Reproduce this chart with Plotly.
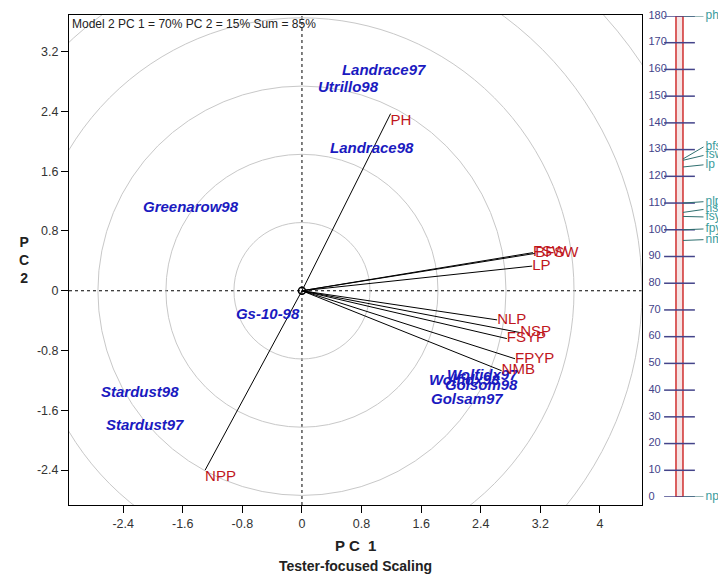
import plotly.graph_objects as go

# ---- data ----
TESTERS = ["PH", "FSW", "BFSW", "LP", "NLP", "NSP", "FSYP", "FPYP", "NMB", "NPP"]
T_PC1 = [1.19, 3.10, 3.13, 3.09, 2.62, 2.93, 2.75, 2.86, 2.68, -1.30]
T_PC2 = [2.37, 0.51, 0.50, 0.33, -0.39, -0.56, -0.64, -0.91, -1.07, -2.40]
T_TEXTPOS = ["bottom right", "middle right", "middle right", "middle right", "middle right",
             "middle right", "middle right", "middle right", "middle right", "bottom right"]

GENOTYPES = ["Landrace97", "Utrillo98", "Landrace98", "Greenarow98", "Gs-10-98",
             "Stardust98", "Stardust97", "Wolfidx98", "Wolfidx97", "Golsom98", "Golsam97"]
G_PC1 = [0.537, 0.215, 0.376, -2.134, -0.886, -2.698, -2.631, 1.705, 1.946, 1.919, 1.732]
G_PC2 = [2.941, 2.714, 1.898, 1.110, -0.334, -1.377, -1.818, -1.217, -1.150, -1.283, -1.471]

CIRCLE_RADII = [0.913, 1.826, 2.739, 3.652, 4.565, 5.478]

X_TICKS = [-2.4, -1.6, -0.8, 0, 0.8, 1.6, 2.4, 3.2, 4]
X_TICKTEXT = ["-2.4", "-1.6", "-0.8", "0", "0.8", "1.6", "2.4", "3.2", "4"]
Y_TICKS = [-2.4, -1.6, -0.8, 0, 0.8, 1.6, 2.4, 3.2]
Y_TICKTEXT = ["-2.4", "-1.6", "-0.8", "0", "0.8", "1.6", "2.4", "3.2"]

# right-hand scale of tester means
SCALE_VARS = ["ph", "bfsw", "fsw", "lp", "nlp", "nsp", "fsyp", "fpyp", "nmb", "npp"]
SCALE_VALS = [180, 126.5, 126, 123.5, 110, 106.5, 105, 100, 96, 0]
SCALE_LABEL_Y = [180, 131, 127.8, 124.3, 110.5, 107.6, 104.8, 100.3, 96.3, 0]
SCALE_TICKS = list(range(0, 181, 10))

FONT = "Arial, 'Liberation Sans', sans-serif"
RED = "#C0161C"
BLUE = "#1A1AC0"
TEAL = "#3A9C9C"
NAVY = "#44448A"

fig = go.Figure()

# concentric circles about the origin
for r in CIRCLE_RADII:
    fig.add_shape(type="circle", xref="x", yref="y", x0=-r, y0=-r, x1=r, y1=r,
                  line=dict(color="#C8C8C8", width=1), layer="below")

# dashed axes through origin
fig.add_hline(y=0, line=dict(color="black", width=1, dash="3px,3px"), layer="below")
fig.add_vline(x=0, line=dict(color="black", width=1, dash="3px,3px"), layer="below")

# tester vectors
vx, vy = [], []
for a, b in zip(T_PC1, T_PC2):
    vx += [0, a, None]
    vy += [0, b, None]
fig.add_trace(go.Scatter(x=vx, y=vy, mode="lines", line=dict(color="black", width=1),
                         hoverinfo="skip", showlegend=False))
fig.add_trace(go.Scatter(x=[0], y=[0], mode="markers",
                         marker=dict(symbol="circle-open", size=7, color="black",
                                     line=dict(width=1.5)),
                         hoverinfo="skip", showlegend=False))

fig.add_trace(go.Scatter(x=G_PC1, y=G_PC2, mode="text", text=GENOTYPES,
                         textposition="middle right",
                         textfont=dict(family=FONT, size=15, color=BLUE,
                                       weight="bold", style="italic"),
                         showlegend=False))
fig.add_trace(go.Scatter(x=T_PC1, y=T_PC2, mode="text", text=TESTERS,
                         textposition=T_TEXTPOS,
                         textfont=dict(family=FONT, size=15, color=RED),
                         showlegend=False))

# ---- right-hand scale ----
BAR_HALF = 3.5
LABEL_X = 26
TICKLABEL_X = -31
fig.add_shape(type="rect", xref="x2", yref="y2", x0=-BAR_HALF, x1=BAR_HALF,
              y0=min(SCALE_TICKS), y1=max(SCALE_TICKS),
              line=dict(color="#D03030", width=1.5), fillcolor="#F6E4E4", layer="below")
fig.add_trace(go.Scatter(x=[0] * len(SCALE_TICKS), y=SCALE_TICKS, xaxis="x2", yaxis="y2",
                         mode="markers",
                         marker=dict(symbol="line-ew", size=22,
                                     line=dict(color=NAVY, width=1.5)),
                         hoverinfo="skip", showlegend=False))
fig.add_trace(go.Scatter(x=[TICKLABEL_X] * len(SCALE_TICKS), y=SCALE_TICKS,
                         xaxis="x2", yaxis="y2", mode="text",
                         text=[str(t) for t in SCALE_TICKS], textposition="middle right",
                         textfont=dict(family=FONT, size=11, color=NAVY),
                         hoverinfo="skip", showlegend=False, cliponaxis=False))
cx, cy = [], []
for v, ly in zip(SCALE_VALS, SCALE_LABEL_Y):
    cx += [BAR_HALF, LABEL_X - 2, None]
    cy += [v, ly, None]
fig.add_trace(go.Scatter(x=cx, y=cy, xaxis="x2", yaxis="y2", mode="lines",
                         line=dict(color="#2F6F6F", width=1),
                         hoverinfo="skip", showlegend=False))
fig.add_trace(go.Scatter(x=[LABEL_X] * len(SCALE_VARS), y=SCALE_LABEL_Y,
                         xaxis="x2", yaxis="y2", mode="text", text=SCALE_VARS,
                         textposition="middle right",
                         textfont=dict(family=FONT, size=12, color=TEAL),
                         hoverinfo="skip", showlegend=False, cliponaxis=False))

axis_common = dict(showgrid=False, zeroline=False, showline=True, mirror=True,
                   linecolor="black", linewidth=1, ticks="outside", ticklen=7,
                   tickcolor="black", tickfont=dict(family=FONT, size=12.5, color="#333333"))

# page body has an 8px margin, so the figure is 8px smaller and offset accordingly
fig.update_layout(
    width=718, height=573,
    margin=dict(l=61, r=0, t=7, b=76, autoexpand=False),
    paper_bgcolor="white", plot_bgcolor="white",
    font=dict(family=FONT),
    xaxis=dict(domain=[0, 0.8721], range=[-3.127, 4.564], tickvals=X_TICKS,
               ticktext=X_TICKTEXT, **axis_common),
    yaxis=dict(domain=[0, 1], range=[-2.867, 3.690], tickvals=Y_TICKS,
               ticktext=Y_TICKTEXT, **axis_common),
    xaxis2=dict(domain=[0.8782, 1], range=[-33.5, 46.5], visible=False, anchor="y2"),
    yaxis2=dict(domain=[0.0163, 0.998], range=[0, 180], anchor="x2", visible=False),
    annotations=[
        dict(text="Model 2 PC 1 = 70% PC 2 = 15% Sum = 85%", xref="paper", yref="paper",
             x=0.002, y=1.0, xanchor="left", yanchor="top", showarrow=False,
             font=dict(family=FONT, size=12, color="#222222")),
        dict(text="<b>P C  1</b>", xref="paper", yref="paper", x=0.436, y=-0.082,
             xanchor="center", yanchor="middle", showarrow=False,
             font=dict(family=FONT, size=15, color="#222222")),
        dict(text="<b>Tester-focused Scaling</b>", xref="paper", yref="paper", x=0.436,
             y=-0.125, xanchor="center", yanchor="middle", showarrow=False,
             font=dict(family=FONT, size=14, color="#222222")),
        dict(text="<b>P<br>C<br>2</b>", xref="paper", yref="paper", x=-0.068, y=0.50,
             xanchor="center", yanchor="middle", showarrow=False,
             font=dict(family=FONT, size=14, color="#222222")),
    ],
)

fig.write_html("out.html")
